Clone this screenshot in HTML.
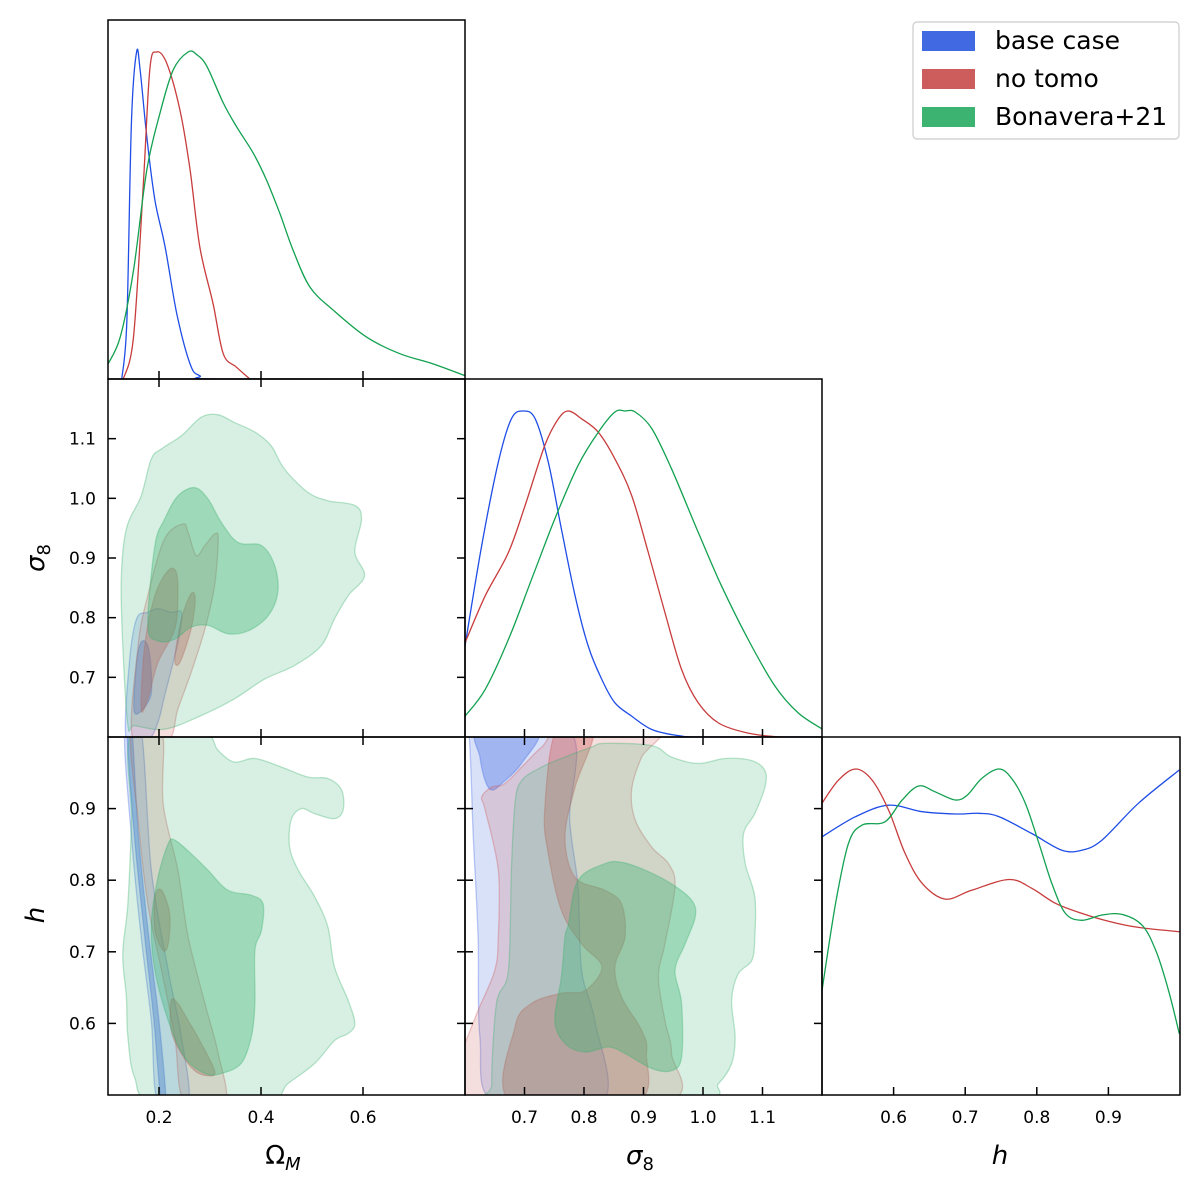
<!DOCTYPE html>
<html><head><meta charset="utf-8"><style>
html,body{margin:0;padding:0;background:#fff;}
svg{display:block;font-family:"DejaVu Sans","Liberation Sans",sans-serif;}
</style></head><body>
<svg id="chart" width="1200" height="1197" viewBox="0 0 1200 1197" xmlns="http://www.w3.org/2000/svg"></svg>
<script>
// ---------- data ----------
const seriesNames = ["base case","no tomo","Bonavera+21"];
const seriesColors = ["#4169e1","#cd5c5c","#3cb371"];
const lineColors = ["#1f4ee6","#c83c3c","#12a150"];

const omBase = [[0.127,0],[0.137,0.18],[0.146,0.79],[0.156,1.0],[0.163,0.946],[0.176,0.741],[0.192,0.547],[0.212,0.404],[0.235,0.199],[0.261,0.046],[0.280,0.01],[0.320,0],[0.8,0]];
const omNoTomo = [[0.130,0],[0.150,0.128],[0.169,0.588],[0.182,0.946],[0.195,1.0],[0.215,0.966],[0.241,0.823],[0.261,0.639],[0.280,0.404],[0.306,0.230],[0.326,0.077],[0.352,0.036],[0.378,0]];
const omBon = [[0.1,0.046],[0.124,0.128],[0.150,0.332],[0.176,0.639],[0.202,0.813],[0.228,0.946],[0.257,1.0],[0.274,0.992],[0.294,0.956],[0.326,0.844],[0.352,0.772],[0.385,0.690],[0.411,0.608],[0.437,0.506],[0.463,0.394],[0.496,0.281],[0.542,0.210],[0.607,0.128],[0.673,0.077],[0.738,0.046],[0.8,0.010]];
const s8Base = [[0.6,0.279],[0.628,0.587],[0.656,0.843],[0.678,0.976],[0.698,1.0],[0.718,0.976],[0.740,0.843],[0.762,0.638],[0.785,0.433],[0.807,0.279],[0.830,0.176],[0.852,0.105],[0.880,0.064],[0.914,0.023],[0.959,0.004],[1.003,0],[1.2,0]];
const s8NoTomo = [[0.6,0.289],[0.634,0.433],[0.673,0.566],[0.701,0.710],[0.734,0.894],[0.757,0.976],[0.774,1.0],[0.796,0.976],[0.824,0.935],[0.852,0.853],[0.880,0.741],[0.908,0.566],[0.936,0.382],[0.964,0.207],[0.992,0.105],[1.026,0.043],[1.076,0.012],[1.132,0],[1.2,0]];
const s8Bon = [[0.6,0.064],[0.634,0.146],[0.673,0.299],[0.712,0.484],[0.751,0.669],[0.790,0.833],[0.824,0.935],[0.852,0.997],[0.869,1.0],[0.886,0.997],[0.914,0.946],[0.947,0.823],[0.992,0.628],[1.031,0.464],[1.076,0.299],[1.121,0.156],[1.160,0.074],[1.2,0.025]];
const hBase = [[0.5,0.792],[0.547,0.854],[0.593,0.889],[0.640,0.869],[0.686,0.862],[0.719,0.864],[0.747,0.854],[0.793,0.802],[0.835,0.751],[0.863,0.751],[0.891,0.782],[0.942,0.895],[0.999,0.997]];
const hNoTomo = [[0.5,0.895],[0.523,0.966],[0.547,1.0],[0.570,0.966],[0.593,0.874],[0.616,0.741],[0.640,0.649],[0.672,0.601],[0.709,0.628],[0.761,0.661],[0.793,0.634],[0.826,0.588],[0.863,0.557],[0.900,0.533],[0.942,0.514],[0.999,0.501]];
const hBon = [[0.5,0.321],[0.519,0.588],[0.537,0.772],[0.556,0.828],[0.588,0.838],[0.612,0.905],[0.635,0.948],[0.658,0.930],[0.686,0.905],[0.703,0.920],[0.723,0.971],[0.747,1.0],[0.765,0.971],[0.784,0.895],[0.803,0.772],[0.821,0.649],[0.840,0.557],[0.863,0.536],[0.891,0.552],[0.919,0.554],[0.947,0.521],[0.966,0.444],[0.984,0.321],[0.999,0.188]];

const omS8BaseOuter = [[0.136,0.595],[0.142,0.725],[0.156,0.798],[0.178,0.809],[0.198,0.815],[0.224,0.809],[0.244,0.809],[0.241,0.775],[0.231,0.736],[0.211,0.669],[0.198,0.625],[0.178,0.595]];
const omS8BaseInner = [[0.152,0.641],[0.156,0.725],[0.165,0.759],[0.178,0.753],[0.185,0.708],[0.182,0.664]];
const omS8NoTomoOuter = [[0.149,0.595],[0.159,0.753],[0.178,0.837],[0.211,0.932],[0.247,0.957],[0.257,0.943],[0.273,0.904],[0.290,0.921],[0.309,0.940],[0.316,0.932],[0.309,0.854],[0.290,0.781],[0.263,0.708],[0.237,0.647],[0.218,0.595]];
const omS8NoTomoInnerA = [[0.165,0.647],[0.172,0.753],[0.192,0.837],[0.218,0.879],[0.234,0.876],[0.237,0.837],[0.231,0.781],[0.198,0.725],[0.178,0.664]];
const omS8NoTomoInnerB = [[0.231,0.731],[0.244,0.798],[0.263,0.840],[0.271,0.831],[0.263,0.781],[0.241,0.725]];
const omS8BonOuter = [[0.139,0.619],[0.129,0.753],[0.126,0.865],[0.136,0.949],[0.165,1.004],[0.185,1.066],[0.205,1.083],[0.244,1.105],[0.283,1.136],[0.316,1.140],[0.348,1.127],[0.388,1.111],[0.420,1.088],[0.446,1.049],[0.492,1.010],[0.531,0.996],[0.584,0.988],[0.597,0.965],[0.584,0.910],[0.603,0.870],[0.571,0.837],[0.544,0.798],[0.518,0.753],[0.466,0.720],[0.407,0.697],[0.348,0.664],[0.283,0.636],[0.211,0.613],[0.152,0.619]];
const omS8BonInner = [[0.178,0.787],[0.192,0.921],[0.211,0.965],[0.237,1.004],[0.270,1.018],[0.296,0.999],[0.322,0.960],[0.355,0.926],[0.401,0.921],[0.427,0.887],[0.433,0.842],[0.414,0.803],[0.375,0.778],[0.335,0.773],[0.296,0.787],[0.263,0.784],[0.231,0.764],[0.198,0.761]];

const omHBaseOuter = [[0.133,1.01],[0.146,0.860],[0.165,0.721],[0.185,0.604],[0.198,0.49],[0.257,0.49],[0.244,0.581],[0.218,0.674],[0.185,0.814],[0.165,1.01]];
const omHBaseInner = [[0.137,1.01],[0.152,0.860],[0.172,0.721],[0.190,0.604],[0.204,0.49],[0.214,0.49],[0.200,0.604],[0.180,0.721],[0.160,0.860],[0.147,1.01]];
const omHNoTomoOuter = [[0.146,1.01],[0.159,0.884],[0.178,0.767],[0.205,0.674],[0.231,0.581],[0.250,0.49],[0.329,0.49],[0.316,0.558],[0.290,0.628],[0.257,0.721],[0.237,0.814],[0.208,0.907],[0.205,1.01]];
const omHNoTomoInnerA = [[0.192,0.777],[0.205,0.786],[0.221,0.753],[0.218,0.711],[0.208,0.702],[0.192,0.730]];
const omHNoTomoInnerB = [[0.224,0.632],[0.237,0.628],[0.257,0.604],[0.276,0.581],[0.309,0.534],[0.296,0.527],[0.270,0.534],[0.244,0.558],[0.224,0.590]];
const omHBonOuter = [[0.149,1.01],[0.283,1.01],[0.316,0.981],[0.348,0.965],[0.388,0.970],[0.440,0.958],[0.492,0.944],[0.531,0.942],[0.558,0.926],[0.561,0.898],[0.544,0.886],[0.505,0.893],[0.479,0.900],[0.459,0.884],[0.456,0.846],[0.473,0.814],[0.505,0.777],[0.531,0.735],[0.544,0.679],[0.571,0.632],[0.584,0.600],[0.571,0.586],[0.544,0.576],[0.505,0.544],[0.453,0.516],[0.407,0.49],[0.192,0.49],[0.152,0.525],[0.139,0.581],[0.136,0.637],[0.129,0.697],[0.139,0.767],[0.146,0.884]];
const omHBonInner = [[0.185,0.739],[0.198,0.804],[0.218,0.851],[0.231,0.856],[0.263,0.837],[0.296,0.814],[0.335,0.786],[0.381,0.779],[0.404,0.767],[0.401,0.730],[0.388,0.702],[0.388,0.628],[0.381,0.581],[0.361,0.544],[0.322,0.530],[0.290,0.530],[0.250,0.553],[0.218,0.604],[0.192,0.674]];

const s8HBaseOuter = [[0.59,1.01],[0.774,1.01],[0.776,0.884],[0.790,0.790],[0.796,0.674],[0.818,0.604],[0.830,0.49],[0.650,0.49],[0.625,0.581],[0.622,0.721],[0.614,0.860],[0.606,1.01]];
const s8HBaseInner = [[0.622,1.01],[0.723,1.01],[0.695,0.963],[0.662,0.935],[0.645,0.926],[0.634,0.939],[0.625,0.972]];
const s8HNoTomoOuter = [[0.6,0.572],[0.622,0.618],[0.650,0.674],[0.656,0.721],[0.656,0.814],[0.634,0.898],[0.628,0.916],[0.645,0.930],[0.667,0.935],[0.701,0.963],[0.729,0.986],[0.768,1.01],[0.925,1.01],[0.897,0.972],[0.880,0.926],[0.886,0.884],[0.914,0.846],[0.942,0.823],[0.953,0.791],[0.936,0.711],[0.925,0.665],[0.936,0.604],[0.947,0.558],[0.936,0.49],[0.59,0.49],[0.59,0.55]];
const s8HNoTomoInner = [[0.754,1.01],[0.816,1.01],[0.785,0.930],[0.768,0.860],[0.785,0.804],[0.835,0.786],[0.863,0.767],[0.869,0.721],[0.852,0.679],[0.863,0.637],[0.897,0.590],[0.905,0.558],[0.886,0.49],[0.678,0.49],[0.684,0.595],[0.712,0.628],[0.762,0.642],[0.802,0.646],[0.830,0.679],[0.796,0.711],[0.762,0.758],[0.740,0.837],[0.734,0.898]];
const s8HBonOuter = [[0.645,0.516],[0.653,0.628],[0.673,0.674],[0.678,0.814],[0.684,0.907],[0.695,0.939],[0.729,0.958],[0.768,0.972],[0.813,0.986],[0.835,0.991],[0.914,0.988],[0.947,0.972],[0.992,0.963],[1.037,0.970],[1.082,0.967],[1.104,0.953],[1.104,0.930],[1.087,0.893],[1.068,0.865],[1.071,0.823],[1.087,0.777],[1.087,0.721],[1.082,0.688],[1.059,0.669],[1.048,0.632],[1.054,0.581],[1.048,0.544],[1.026,0.516],[0.992,0.495],[0.656,0.495]];
const s8HBonInner = [[0.774,0.739],[0.790,0.800],[0.835,0.823],[0.863,0.825],[0.903,0.814],[0.947,0.795],[0.981,0.772],[0.987,0.749],[0.970,0.711],[0.953,0.674],[0.964,0.628],[0.964,0.553],[0.947,0.534],[0.914,0.537],[0.869,0.558],[0.841,0.567],[0.802,0.560],[0.768,0.572],[0.751,0.604],[0.762,0.665],[0.768,0.721]];

const omTicks = [0.2,0.4,0.6];
const s8Ticks = [0.7,0.8,0.9,1.0,1.1];
const hTicks = [0.6,0.7,0.8,0.9];

// ---------- layout ----------
const X0=108, X1=465, X2=822, X3=1180;
const Y0=20, Y1=379, Y2=737, Y3=1095;
const omX = v => X0 + (v-0.1)/0.7*(X1-X0);
const s8X = v => X1 + (v-0.6)/0.6*(X2-X1);
const hX  = v => X2 + (v-0.5)/0.5*(X3-X2);
const s8Y = v => Y2 - (v-0.6)/0.6*(Y2-Y1);
const hY  = v => Y3 - (v-0.5)/0.5*(Y3-Y2);

const NS="http://www.w3.org/2000/svg";
const svg=document.getElementById('chart');
function mk(tag, attrs, parent){const e=document.createElementNS(NS,tag);for(const k in attrs)e.setAttribute(k,attrs[k]);(parent||svg).appendChild(e);return e;}

function smoothPath(pts, closed){
  const n=pts.length; if(n<2) return '';
  let d='M'+pts[0][0].toFixed(1)+','+pts[0][1].toFixed(1);
  const get=i=>closed?pts[(i+n)%n]:pts[Math.max(0,Math.min(n-1,i))];
  const segs=closed?n:n-1;
  for(let i=0;i<segs;i++){
    const p0=get(i-1),p1=get(i),p2=get(i+1),p3=get(i+2);
    const c1=[p1[0]+(p2[0]-p0[0])/6,p1[1]+(p2[1]-p0[1])/6];
    const c2=[p2[0]-(p3[0]-p1[0])/6,p2[1]-(p3[1]-p1[1])/6];
    d+=' C'+c1[0].toFixed(1)+','+c1[1].toFixed(1)+' '+c2[0].toFixed(1)+','+c2[1].toFixed(1)+' '+p2[0].toFixed(1)+','+p2[1].toFixed(1);
  }
  return d+(closed?' Z':'');
}

const defs=mk('defs',{});
function clip(id,x,y,w,h){const c=mk('clipPath',{id:id},defs);mk('rect',{x:x,y:y,width:w,height:h},c);}
clip('c00',X0,Y0,X1-X0,Y1-Y0);
clip('c10',X0,Y1,X1-X0,Y2-Y1);
clip('c11',X1,Y1,X2-X1,Y2-Y1);
clip('c20',X0,Y2,X1-X0,Y3-Y2);
clip('c21',X1,Y2,X2-X1,Y3-Y2);
clip('c22',X2,Y2,X3-X2,Y3-Y2);

function contour(g, data, fx, fy, si, inner, name){
  const pts=data.map(p=>[fx(p[0]),fy(p[1])]);
  const p=mk('path',{d:smoothPath(pts,true),fill:seriesColors[si],'fill-opacity':inner?0.37:0.2,stroke:seriesColors[si],'stroke-opacity':0.35,'stroke-width':1.3},g);
  
  
}
function curve(g, data, fx, fy0, fyTop, si, name){
  const pts=data.map(p=>[fx(p[0]), fy0 - p[1]*(fy0-fyTop)]);
  const p=mk('path',{d:smoothPath(pts,false),fill:'none',stroke:lineColors[si],'stroke-width':1.3},g);
  
  
}

const g00=mk('g',{'clip-path':'url(#c00)'});


[omBase,omNoTomo,omBon].forEach((d,i)=>curve(g00,d,omX,Y1,52,i,'omega-m-curve-'+i));
const g11=mk('g',{'clip-path':'url(#c11)'});


[s8Base,s8NoTomo,s8Bon].forEach((d,i)=>curve(g11,d,s8X,Y2,411,i,'sigma8-curve-'+i));
const g22=mk('g',{'clip-path':'url(#c22)'});


[hBase,hNoTomo,hBon].forEach((d,i)=>curve(g22,d,hX,Y3,769,i,'h-curve-'+i));

const g10=mk('g',{'clip-path':'url(#c10)'});


contour(g10,omS8BaseOuter,omX,s8Y,0,false,'base-outer');
contour(g10,omS8BaseInner,omX,s8Y,0,true,'base-inner');
contour(g10,omS8NoTomoOuter,omX,s8Y,1,false,'notomo-outer');
contour(g10,omS8NoTomoInnerA,omX,s8Y,1,true,'notomo-inner-a');
contour(g10,omS8NoTomoInnerB,omX,s8Y,1,true,'notomo-inner-b');
contour(g10,omS8BonOuter,omX,s8Y,2,false,'bonavera-outer');
contour(g10,omS8BonInner,omX,s8Y,2,true,'bonavera-inner');

const g20=mk('g',{'clip-path':'url(#c20)'});


contour(g20,omHBaseOuter,omX,hY,0,false,'base-outer');
contour(g20,omHBaseInner,omX,hY,0,true,'base-inner');
contour(g20,omHNoTomoOuter,omX,hY,1,false,'notomo-outer');
contour(g20,omHNoTomoInnerA,omX,hY,1,true,'notomo-inner-a');
contour(g20,omHNoTomoInnerB,omX,hY,1,true,'notomo-inner-b');
contour(g20,omHBonOuter,omX,hY,2,false,'bonavera-outer');
contour(g20,omHBonInner,omX,hY,2,true,'bonavera-inner');

const g21=mk('g',{'clip-path':'url(#c21)'});


contour(g21,s8HBaseOuter,s8X,hY,0,false,'base-outer');
contour(g21,s8HBaseInner,s8X,hY,0,true,'base-inner');
contour(g21,s8HNoTomoOuter,s8X,hY,1,false,'notomo-outer');
contour(g21,s8HNoTomoInner,s8X,hY,1,true,'notomo-inner');
contour(g21,s8HBonOuter,s8X,hY,2,false,'bonavera-outer');
contour(g21,s8HBonInner,s8X,hY,2,true,'bonavera-inner');

const axes=mk('g',{});


function frame(x0,y0,x1,y1,name){const r=mk('rect',{x:x0,y:y0,width:x1-x0,height:y1-y0,fill:'none',stroke:'#000','stroke-width':1.5},axes);}
function tick(x1,y1,x2,y2){mk('line',{x1:x1,y1:y1,x2:x2,y2:y2,stroke:'#000','stroke-width':1.5},axes);}
const TL=8;
function xTicks(vals,f,y0,y1,both){vals.forEach(v=>{const x=f(v);tick(x,y1,x,y1-TL);if(both)tick(x,y0,x,y0+TL);});}
function yTicks(vals,f,x0,x1){vals.forEach(v=>{const y=f(v);tick(x0,y,x0+TL,y);tick(x1,y,x1-TL,y);});}
xTicks(omTicks,omX,Y0,Y1,false);
xTicks(omTicks,omX,Y1,Y2,true); yTicks(s8Ticks,s8Y,X0,X1);
xTicks(s8Ticks,s8X,Y1,Y2,false);
xTicks(omTicks,omX,Y2,Y3,true); yTicks(hTicks,hY,X0,X1);
xTicks(s8Ticks,s8X,Y2,Y3,true); yTicks(hTicks,hY,X1,X2);
xTicks(hTicks,hX,Y2,Y3,false);
frame(X0,Y0,X1,Y1,'panel-omega-m');
frame(X0,Y1,X1,Y2,'panel-omega-sigma8');
frame(X1,Y1,X2,Y2,'panel-sigma8');
frame(X0,Y2,X1,Y3,'panel-omega-h');
frame(X1,Y2,X2,Y3,'panel-sigma8-h');
frame(X2,Y2,X3,Y3,'panel-h');

function txt(x,y,s,anchor,size,name,extra){const t=mk('text',Object.assign({x:x,y:y,'text-anchor':anchor,'font-size':size,fill:'#000'},extra||{}));t.textContent=s;return t;}
omTicks.forEach(v=>txt(omX(v),1123,v.toFixed(1),'middle',17,'x-tick-omega'));
s8Ticks.forEach(v=>txt(s8X(v),1123,v.toFixed(1),'middle',17,'x-tick-sigma8'));
hTicks.forEach(v=>txt(hX(v),1123,v.toFixed(1),'middle',17,'x-tick-h'));
s8Ticks.forEach(v=>txt(96,s8Y(v)+6,v.toFixed(1),'end',17,'y-tick-sigma8'));
hTicks.forEach(v=>txt(96,hY(v)+6,v.toFixed(1),'end',17,'y-tick-h'));

let t=txt(283,1164,'','middle',26,'x-axis-title-omega-m');
t.innerHTML='Ω<tspan font-size="18" font-style="italic" dy="6">M</tspan>';
t=txt(640,1164,'','middle',26,'x-axis-title-sigma8',{'font-style':'italic'});
t.innerHTML='σ<tspan font-size="18" font-style="normal" dy="6">8</tspan>';
txt(1000,1164,'h','middle',26,'x-axis-title-h',{'font-style':'italic'});
t=txt(0,0,'','middle',26,'y-axis-title-sigma8',{'font-style':'italic',transform:'translate(44,558) rotate(-90)'});
t.innerHTML='σ<tspan font-size="18" font-style="normal" dy="6">8</tspan>';
txt(0,0,'h','middle',26,'y-axis-title-h',{'font-style':'italic',transform:'translate(44,915) rotate(-90)'});

const lg=mk('g',{});


mk('rect',{x:913,y:22,width:266,height:117,rx:4,fill:'#fff',stroke:'#ccc','stroke-width':1.2},lg);
seriesNames.forEach((n,i)=>{
  const y=31+i*38;
  const r=mk('rect',{x:922,y:y,width:53,height:20,fill:seriesColors[i]},lg);
  
  
  const tt=mk('text',{x:995,y:y+18,'font-size':25,fill:'#000'},lg);
  tt.textContent=n;
  
  
});
</script>
</body></html>
